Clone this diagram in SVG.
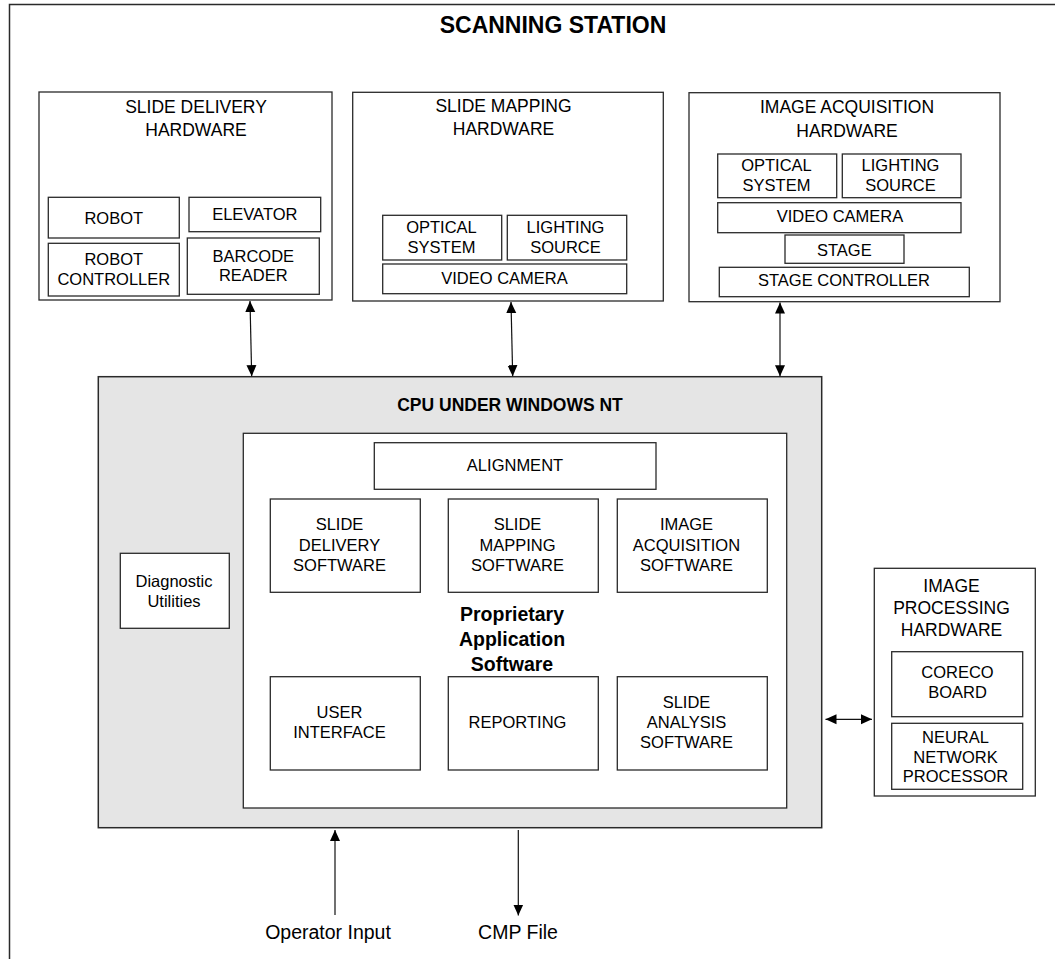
<svg xmlns="http://www.w3.org/2000/svg" width="1055" height="959" viewBox="0 0 1055 959">
<style>
  .box { fill: #ffffff; stroke: #2a2a2a; stroke-width: 1.3; }
  .cpu { fill: #e5e5e5; stroke: #2a2a2a; stroke-width: 1.5; }
  .frame { fill: #ffffff; stroke: #2a2a2a; stroke-width: 1.5; }
  text { font-family: "Liberation Sans", Arial, sans-serif; fill: #000; text-anchor: middle; }
  .t { font-size: 16.5px; }
  .h { font-size: 17.5px; }
  .b { font-weight: bold; }
  .conn { stroke: #111; stroke-width: 1.2; fill: none; }
</style>
<defs>
  <marker id="ah" markerUnits="userSpaceOnUse" markerWidth="12" markerHeight="12" viewBox="0 0 12 12" refX="11" refY="6" orient="auto-start-reverse">
    <path d="M0,1 L11,6 L0,11 Z" fill="#000"/>
  </marker>
</defs>

<g id="scanning-station">
  <rect class="frame" x="9.5" y="4.5" width="1050" height="960"/>
  <text class="b" x="553" y="33" style="font-size:23px">SCANNING STATION</text>
</g>

<g id="slide-delivery-hardware">
  <rect class="box" x="39" y="92" width="293" height="208"/>
  <text class="h" x="196" y="113">SLIDE DELIVERY</text>
  <text class="h" x="196" y="136">HARDWARE</text>
  <g id="robot"><rect class="box" x="48.3" y="197.3" width="131" height="40.7"/><text class="t" x="113.8" y="223.5">ROBOT</text></g>
  <g id="elevator"><rect class="box" x="189" y="197.3" width="131.7" height="34.4"/><text class="t" x="254.8" y="220">ELEVATOR</text></g>
  <g id="robot-controller"><rect class="box" x="48.3" y="243.3" width="131" height="52.7"/><text class="t" x="113.8" y="265">ROBOT</text><text class="t" x="113.8" y="285">CONTROLLER</text></g>
  <g id="barcode-reader"><rect class="box" x="187.3" y="238" width="132" height="56.3"/><text class="t" x="253.3" y="261.7">BARCODE</text><text class="t" x="253.3" y="281">READER</text></g>
</g>

<g id="slide-mapping-hardware">
  <rect class="box" x="352.7" y="92.3" width="310.6" height="208.7"/>
  <text class="h" x="503.5" y="112">SLIDE MAPPING</text>
  <text class="h" x="503.5" y="135">HARDWARE</text>
  <g id="sm-optical"><rect class="box" x="382.7" y="215.3" width="119" height="44.7"/><text class="t" x="441.5" y="232.7">OPTICAL</text><text class="t" x="441.5" y="252.7">SYSTEM</text></g>
  <g id="sm-lighting"><rect class="box" x="507.3" y="215.3" width="119.4" height="44.7"/><text class="t" x="565.5" y="232.7">LIGHTING</text><text class="t" x="565.5" y="252.7">SOURCE</text></g>
  <g id="sm-camera"><rect class="box" x="382.7" y="264" width="244" height="29.7"/><text class="t" x="504.5" y="284">VIDEO CAMERA</text></g>
</g>

<g id="image-acquisition-hardware">
  <rect class="box" x="689" y="92.7" width="311" height="209"/>
  <text class="h" x="847" y="113.3">IMAGE ACQUISITION</text>
  <text class="h" x="847" y="136.7">HARDWARE</text>
  <g id="ia-optical"><rect class="box" x="717.7" y="154" width="119" height="43.7"/><text class="t" x="776.5" y="170.7">OPTICAL</text><text class="t" x="776.5" y="190.7">SYSTEM</text></g>
  <g id="ia-lighting"><rect class="box" x="842.3" y="154" width="118.7" height="43.7"/><text class="t" x="900.5" y="170.7">LIGHTING</text><text class="t" x="900.5" y="190.7">SOURCE</text></g>
  <g id="ia-camera"><rect class="box" x="717.7" y="202.7" width="243.3" height="30"/><text class="t" x="840" y="221.7">VIDEO CAMERA</text></g>
  <g id="ia-stage"><rect class="box" x="785" y="235" width="119" height="28.3"/><text class="t" x="844.3" y="255.5">STAGE</text></g>
  <g id="ia-stage-controller"><rect class="box" x="719.3" y="267.3" width="250" height="29.4"/><text class="t" x="844" y="286">STAGE CONTROLLER</text></g>
</g>

<g id="cpu">
  <rect class="cpu" x="98.3" y="376.7" width="723.4" height="451"/>
  <text class="b" x="510" y="410.7" style="font-size:17.5px">CPU UNDER WINDOWS NT</text>
</g>

<g id="diagnostic-utilities">
  <rect class="box" x="120.3" y="553.3" width="109" height="75"/>
  <text class="t" x="174" y="586.7">Diagnostic</text>
  <text class="t" x="174" y="606.7">Utilities</text>
</g>

<g id="proprietary-application-software">
  <rect class="box" x="243.3" y="433.3" width="543.4" height="374.7"/>
  <text class="b" x="512" y="621" style="font-size:19.5px">Proprietary</text>
  <text class="b" x="512" y="646" style="font-size:19.5px">Application</text>
  <text class="b" x="512" y="670.5" style="font-size:19.5px">Software</text>
  <g id="alignment"><rect class="box" x="374.3" y="442.7" width="281.7" height="46.6"/><text class="t" x="515" y="471">ALIGNMENT</text></g>
  <g id="slide-delivery-software"><rect class="box" x="270.3" y="499" width="150" height="93.3"/><text class="t" x="339.5" y="530">SLIDE</text><text class="t" x="339.5" y="550.5">DELIVERY</text><text class="t" x="339.5" y="570.5">SOFTWARE</text></g>
  <g id="slide-mapping-software"><rect class="box" x="448.3" y="499" width="150" height="93.3"/><text class="t" x="517.5" y="530">SLIDE</text><text class="t" x="517.5" y="550.5">MAPPING</text><text class="t" x="517.5" y="570.5">SOFTWARE</text></g>
  <g id="image-acquisition-software"><rect class="box" x="617.3" y="499" width="150" height="93.3"/><text class="t" x="686.5" y="530">IMAGE</text><text class="t" x="686.5" y="550.5">ACQUISITION</text><text class="t" x="686.5" y="570.5">SOFTWARE</text></g>
  <g id="user-interface"><rect class="box" x="270.3" y="676.7" width="150" height="93.3"/><text class="t" x="339.5" y="718.3">USER</text><text class="t" x="339.5" y="738.3">INTERFACE</text></g>
  <g id="reporting"><rect class="box" x="448.3" y="676.7" width="150" height="93.3"/><text class="t" x="517.5" y="728.3">REPORTING</text></g>
  <g id="slide-analysis-software"><rect class="box" x="617.3" y="676.7" width="150" height="93.3"/><text class="t" x="686.5" y="708.3">SLIDE</text><text class="t" x="686.5" y="728.3">ANALYSIS</text><text class="t" x="686.5" y="748.3">SOFTWARE</text></g>
</g>

<g id="image-processing-hardware">
  <rect class="box" x="874.3" y="568.3" width="161" height="227.7"/>
  <text class="h" x="951.5" y="591.7">IMAGE</text>
  <text class="h" x="951.5" y="614.3">PROCESSING</text>
  <text class="h" x="951.5" y="636">HARDWARE</text>
  <g id="coreco-board"><rect class="box" x="891.7" y="651.7" width="131" height="65"/><text class="t" x="957.5" y="678.3">CORECO</text><text class="t" x="957.5" y="698.3">BOARD</text></g>
  <g id="neural-network-processor"><rect class="box" x="891.7" y="723.3" width="131" height="66"/><text class="t" x="955.5" y="743.3">NEURAL</text><text class="t" x="955.5" y="762.7">NETWORK</text><text class="t" x="955.5" y="782.3">PROCESSOR</text></g>
</g>

<g id="io-labels">
  <text x="328" y="938.5" style="font-size:19.5px">Operator Input</text>
  <text x="518" y="938.5" style="font-size:19.5px">CMP File</text>
</g>

<g id="connectors">
  <line class="conn" x1="250" y1="301" x2="251.7" y2="376.2" marker-start="url(#ah)" marker-end="url(#ah)"/>
  <line class="conn" x1="511" y1="302" x2="512.7" y2="376.2" marker-start="url(#ah)" marker-end="url(#ah)"/>
  <line class="conn" x1="780" y1="302.5" x2="780" y2="376.2" marker-start="url(#ah)" marker-end="url(#ah)"/>
  <line class="conn" x1="825.5" y1="719.3" x2="872" y2="719.3" marker-start="url(#ah)" marker-end="url(#ah)"/>
  <line class="conn" x1="335" y1="915" x2="335" y2="830" marker-end="url(#ah)"/>
  <line class="conn" x1="518.3" y1="830" x2="518.3" y2="915.5" marker-end="url(#ah)"/>
</g>
</svg>
